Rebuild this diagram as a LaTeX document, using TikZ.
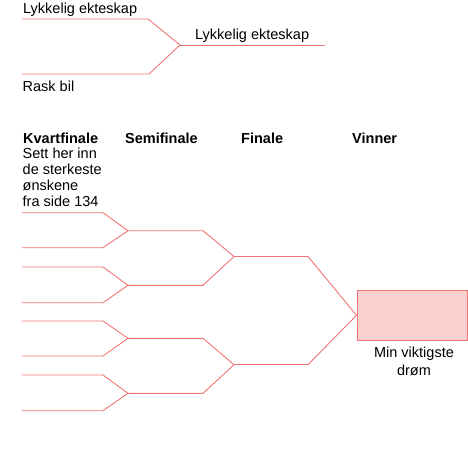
\documentclass[tikz,border=0pt]{standalone}
\usepackage{fontspec}
\setmainfont{Liberation Sans}
\definecolor{bline}{HTML}{F07474}
\definecolor{bfill}{HTML}{FAD0D0}
\begin{document}
\begin{tikzpicture}[x=1pt,y=-1pt,
  txt/.style={font=\fontsize{14.5}{16}\selectfont, inner sep=0pt, anchor=base west},
  hdr/.style={txt, font=\fontsize{14.5}{16}\selectfont\bfseries},
  br/.style={draw=bline, line width=0.9pt}]
\useasboundingbox (0,0) rectangle (468,455);
% top example bracket
\node[txt] (l1) at (23,13.5) {Lykkelig ekteskap};
\node[txt] (l2) at (195,39.5) {Lykkelig ekteskap};
\node[txt] (l3) at (22.5,91.7) {Rask bil};
\coordinate (ea) at (22,19); \coordinate (eb) at (148,19);
\coordinate (ec) at (22,74); \coordinate (ed) at (149,74);
\coordinate (ej) at (180,45); \coordinate (ee) at (325,45);
\draw[br] (ea) -- (eb) -- (ej) -- (ed) -- (ec);
\draw[br] (ej) -- (ee);
% headers
\node[hdr] (h1) at (23,143.3) {Kvartfinale};
\node[hdr] (h2) at (125,143.3) {Semifinale};
\node[hdr] (h3) at (241,143.3) {Finale};
\node[hdr] (h4) at (352,143.3) {Vinner};
\node[txt, align=left, anchor=north west] (sub) at (22.5,147.5) {Sett her inn\\de sterkeste\\ønskene\\fra side 134};
% quarter-final lines
\foreach \i/\y in {1/212.7,2/247.7,3/267,4/302.7,5/321,6/356,7/375,8/410.7}{
  \coordinate (qa\i) at (22,\y); \coordinate (qb\i) at (103,\y);
}
\foreach \j/\y in {1/230.7,2/285.3,3/338.3,4/393.3}{
  \coordinate (sa\j) at (128,\y); \coordinate (sb\j) at (203,\y);
}
\foreach \k/\y in {1/256.5,2/364.7}{
  \coordinate (fa\k) at (234,\y); \coordinate (fb\k) at (308,\y);
}
\draw[br] (qa1) -- (qb1) -- (sa1) -- (qb2) -- (qa2);
\draw[br] (qa3) -- (qb3) -- (sa2) -- (qb4) -- (qa4);
\draw[br] (qa5) -- (qb5) -- (sa3) -- (qb6) -- (qa6);
\draw[br] (qa7) -- (qb7) -- (sa4) -- (qb8) -- (qa8);
\draw[br] (sa1) -- (sb1) -- (fa1) -- (sb2) -- (sa2);
\draw[br] (sa3) -- (sb3) -- (fa2) -- (sb4) -- (sa4);
\draw[br] (fa1) -- (fb1);
\draw[br] (fa2) -- (fb2);
% winner box
\node[draw=bline, fill=bfill, line width=1pt, minimum width=110pt, minimum height=50pt, inner sep=0pt, anchor=west] (win) at (356.5,315.3) {};
\draw[br] (fb1) -- (win.west) -- (fb2);
\node[txt, align=center, anchor=north] (cap) at (414,347) {Min viktigste\\[1.5pt]drøm};
\end{tikzpicture}
\end{document}
